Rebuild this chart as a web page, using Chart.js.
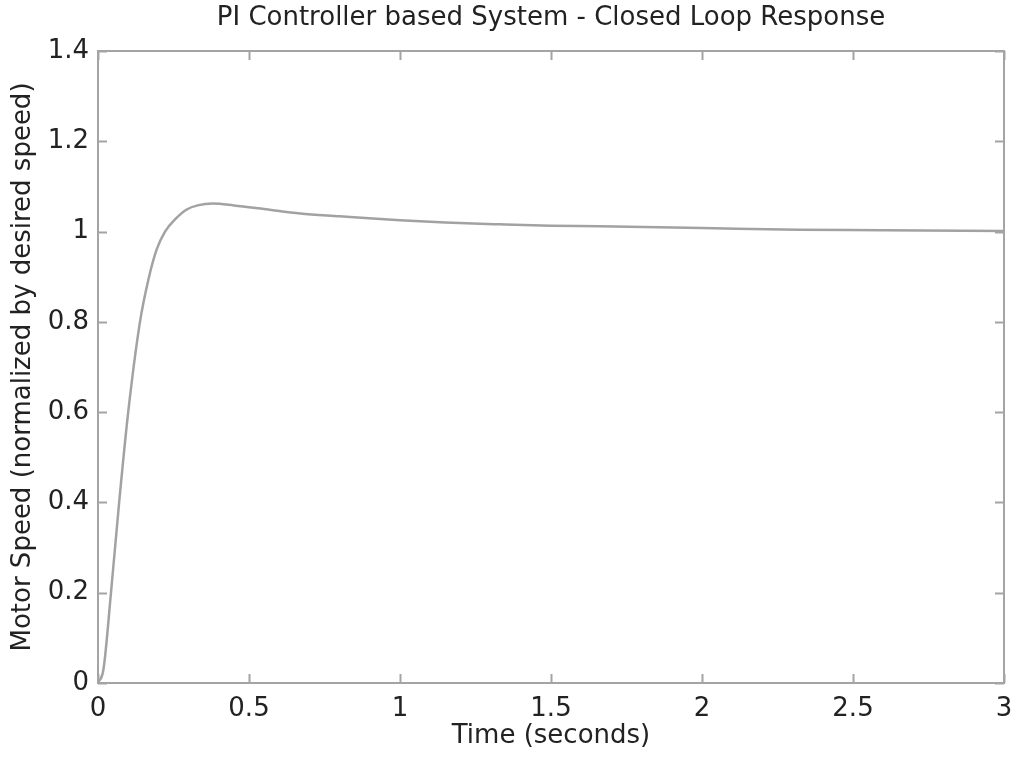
<!DOCTYPE html>
<html>
<head>
<meta charset="utf-8">
<script src="https://cdn.jsdelivr.net/npm/chart.js@4/dist/chart.umd.min.js"></script>
<style>
  html, body { margin: 0; padding: 0; background: #fff; }
  canvas { display: block; }
</style>
</head>
<body>
<canvas id="responseChart" width="1016" height="759"></canvas>
<script>
// time (s) and normalized motor speed
const timeValues  = [0, 0.018, 0.043, 0.07, 0.10, 0.139, 0.167, 0.194, 0.222, 0.255, 0.294, 0.33, 0.38, 0.45, 0.55, 0.67, 0.8, 1.0, 1.15, 1.33, 1.5, 1.66, 2.0, 2.32, 2.6, 3.0];
const speedValues = [0, 0.03, 0.2, 0.4, 0.6, 0.8, 0.894, 0.96, 1.0, 1.027, 1.049, 1.058, 1.062, 1.058, 1.050, 1.040, 1.034, 1.025, 1.020, 1.016, 1.013, 1.012, 1.008, 1.004, 1.003, 1.001];

const xTickValues = [0, 0.5, 1, 1.5, 2, 2.5, 3];
const xTickLabels = ["0", "0.5", "1", "1.5", "2", "2.5", "3"];
const yTickValues = [0, 0.2, 0.4, 0.6, 0.8, 1, 1.2, 1.4];
const yTickLabels = ["0", "0.2", "0.4", "0.6", "0.8", "1", "1.2", "1.4"];

const chartTitle = "PI Controller based System - Closed Loop Response";
const xTitle = "Time (seconds)";
const yTitle = "Motor Speed (normalized by desired speed)";

const axisGray = "#a4a4a4";
const textColor = "#222222";
const font = { family: "'DejaVu Sans', Verdana, sans-serif", size: 26 };

// box round the plot with inward tick marks on all four sides
const boxPlugin = {
    id: "matlabBox",
    afterDatasetsDraw(chart) {
        const { ctx, chartArea: a, scales } = chart;
        const len = 9;
        ctx.save();
        ctx.strokeStyle = axisGray;
        ctx.lineWidth = 2;
        ctx.beginPath();
        scales.x.ticks.forEach(t => {
            const px = Math.round(scales.x.getPixelForValue(t.value)) + 0.5;
            ctx.moveTo(px, a.bottom); ctx.lineTo(px, a.bottom - len);
            ctx.moveTo(px, a.top); ctx.lineTo(px, a.top + len);
        });
        scales.y.ticks.forEach(t => {
            const py = Math.round(scales.y.getPixelForValue(t.value)) + 0.5;
            ctx.moveTo(a.left, py); ctx.lineTo(a.left + len, py);
            ctx.moveTo(a.right, py); ctx.lineTo(a.right - len, py);
        });
        ctx.stroke();
        ctx.strokeRect(a.left, a.top, a.right - a.left, a.bottom - a.top);
        ctx.restore();
    }
};

new Chart(document.getElementById("responseChart"), {
    type: "line",
    data: {
        datasets: [{
            data: timeValues.map((t, i) => ({ x: t, y: speedValues[i] })),
            borderColor: "#a2a2a2",
            borderWidth: 2.5,
            pointRadius: 0,
            cubicInterpolationMode: "monotone",
            fill: false
        }]
    },
    options: {
        responsive: false,
        animation: false,
        layout: { padding: { left: 0, top: 0, right: 12, bottom: 0 } },
        plugins: { legend: { display: false }, tooltip: { enabled: false } },
        scales: {
            x: {
                type: "linear",
                min: 0, max: 3,
                afterBuildTicks: s => { s.ticks = xTickValues.map(v => ({ value: v })); },
                afterFit: s => { s.height = 76; s.paddingLeft = 0; s.paddingRight = 0; },
                grid: { display: false, drawTicks: false },
                border: { display: false },
                ticks: {
                    padding: 11, color: textColor, font: font, maxRotation: 0,
                    callback: (v, i) => xTickLabels[i]
                },
                title: { display: true, text: xTitle, color: textColor, font: font, padding: { top: 0, bottom: 7 } }
            },
            xTop: {
                type: "linear",
                position: "top",
                min: 0, max: 3,
                afterFit: s => { s.height = 51; s.paddingLeft = 0; s.paddingRight = 0; },
                grid: { display: false, drawTicks: false },
                border: { display: false },
                ticks: { display: false },
                title: { display: true, text: chartTitle, color: textColor, font: font, padding: { top: 3, bottom: 0 } }
            },
            y: {
                min: 0, max: 1.4,
                afterBuildTicks: s => { s.ticks = yTickValues.map(v => ({ value: v })); },
                afterFit: s => { s.width = 98; s.paddingTop = 0; s.paddingBottom = 0; },
                grid: { display: false, drawTicks: false },
                border: { display: false },
                ticks: {
                    padding: 9, color: textColor, font: font,
                    callback: (v, i) => yTickLabels[i]
                },
                title: { display: true, text: yTitle, color: textColor, font: font, padding: { top: 8, bottom: 0 } }
            }
        }
    },
    plugins: [boxPlugin]
});
</script>
</body>
</html>
